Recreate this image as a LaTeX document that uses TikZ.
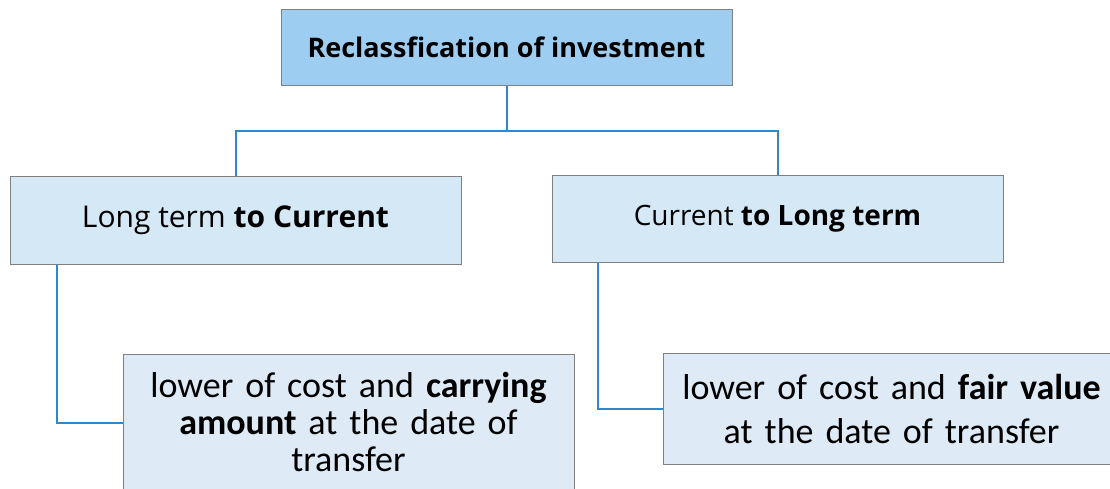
\documentclass[tikz,border=0pt]{standalone}
\usepackage{fontspec}
\setmainfont{Open Sans}
\newfontfamily\calib{Carlito}
\definecolor{topfill}{RGB}{157,205,240}
\definecolor{midfill}{RGB}{213,232,246}
\definecolor{botfill}{RGB}{222,234,246}
\definecolor{edge}{RGB}{128,128,128}
\definecolor{conncol}{RGB}{47,136,204}
\begin{document}
\begin{tikzpicture}[x=1pt,y=-1pt,
  box/.style={draw=edge, line width=1pt, rectangle, inner sep=4pt, align=center, text=black},
  topbox/.style={box, fill=topfill, font=\fontsize{27}{32}\selectfont\bfseries},
  midbox/.style={box, fill=midfill, font=\fontsize{30}{35}\selectfont},
  botbox/.style={box, fill=botfill, font=\calib\fontsize{36}{37}\selectfont},
  conn/.style={draw=conncol, line width=2pt}]
\clip (0,0) rectangle (1110,488);
\fill[white] (0,0) rectangle (1110,488);
\node[topbox, minimum width=451pt, minimum height=76pt] (top) at (506.5,47) {Reclassfication of investment};
\node[midbox, minimum width=451pt, minimum height=88pt] (lm) at (235.5,220) {Long term \textbf{to Current}};
\node[midbox, minimum width=451pt, minimum height=87pt, font=\fontsize{28}{33}\selectfont] (rm) at (777.5,218.5) {Current \textbf{to Long term}};
\node[botbox, minimum width=451pt, minimum height=138pt, text width=430pt] (lb) at (348.5,423) {\raisebox{3pt}{lower of cost and \textbf{carrying}}\\ \raisebox{3pt}{\textbf{amount} at the date of}\\ \raisebox{3pt}{transfer}};
\node[botbox, minimum width=457pt, minimum height=111pt, text width=440pt, font=\calib\fontsize{36}{44}\selectfont] (rb) at (891.5,408.5) {lower of cost and \textbf{fair value}\\ at the date of transfer};
\draw[conn] (top.south) -- ++(0,45) -| (lm.north);
\draw[conn] (top.south) -- ++(0,45) -| (rm.north);
\draw[conn] ([xshift=47pt]lm.south west) |- (lb.west);
\draw[conn] ([xshift=46pt]rm.south west) |- (rb.west);
\end{tikzpicture}
\end{document}
